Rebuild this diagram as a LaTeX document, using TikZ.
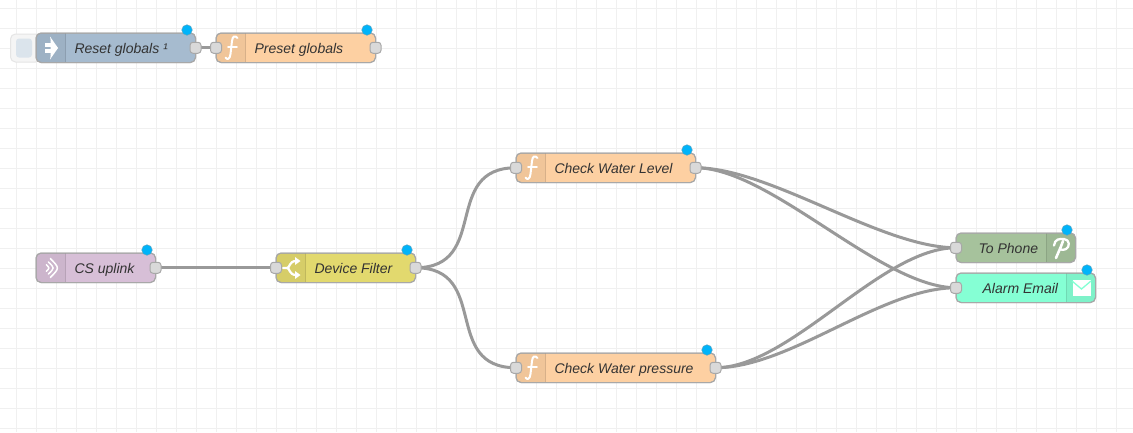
\documentclass[tikz,border=0pt]{standalone}
\usepackage{fontspec}
\setmainfont{Liberation Sans}
\pgfdeclarelayer{gridlayer}
\pgfdeclarelayer{wirelayer}
\pgfsetlayers{gridlayer,wirelayer,main}
\definecolor{wirecol}{HTML}{999999}
\definecolor{edgecol}{HTML}{A8A8A8}
\definecolor{gridcol}{HTML}{F0F0F0}
\definecolor{portcol}{HTML}{D9D9D9}
\definecolor{textcol}{HTML}{333333}
\definecolor{badgecol}{HTML}{00B4FA}
\definecolor{injectc}{HTML}{A6BBCF}
\definecolor{funcc}{HTML}{FDD0A2}
\definecolor{uplinkc}{HTML}{D7BFD7}
\definecolor{switchc}{HTML}{E2D96E}
\definecolor{phonec}{HTML}{A6C29C}
\definecolor{mailc}{HTML}{85FFD4}
\tikzset{
  nodebox/.style={draw=edgecol,line width=1pt,rounded corners=5pt,minimum height=29.5pt,inner sep=0pt,outer sep=0pt,anchor=north west},
  portbox/.style={draw=edgecol,line width=1pt,fill=portcol,rounded corners=3pt,minimum width=11pt,minimum height=11pt,inner sep=0pt,outer sep=0pt},
  badgedot/.style={circle,fill=badgecol,draw=wirecol!60!badgecol,line width=.5pt,minimum size=10.5pt,inner sep=0pt,outer sep=0pt},
  nodelabel/.style={inner sep=0pt,text=textcol,font=\fontsize{14}{16}\selectfont\itshape},
  wireline/.style={draw=wirecol,line width=3pt,out=0,in=180,distance=75pt},
  iconline/.style={draw=white,line cap=round,line join=round},
  iconshade/.style={fill=black,fill opacity=.05},
  icondiv/.style={draw=black,draw opacity=.1,line width=1pt}
}
% name, x, ytop, width, fill, label, icon
\newcommand\flowleft[7]{%
  \node[nodebox,fill=#5,minimum width=#4pt-.5pt] (#1) at (#2,#3) {};
  \begin{scope}
    \clip[rounded corners=5pt] (#1.north west) rectangle (#1.south east);
    \fill[iconshade] (#2,#3) rectangle ++(30,30);
  \end{scope}
  \draw[icondiv] (#2+29.5,#3) -- ++(0,29.5);
  \node[nodebox,minimum width=#4pt-.5pt] at (#2,#3) {};
  \begin{scope}[shift={(#2,#3)}]#7\end{scope}
  \node[nodelabel,anchor=base west] (#1label) at (#2+38.3,#3+20) {#6};
  \node[badgedot] (#1badge) at (#2+#4-9,#3-3) {};
}
\newcommand\flowright[7]{%
  \node[nodebox,fill=#5,minimum width=#4pt-.5pt] (#1) at (#2,#3) {};
  \begin{scope}
    \clip[rounded corners=5pt] (#1.north west) rectangle (#1.south east);
    \fill[iconshade] (#2+#4-30,#3) rectangle ++(30,30);
  \end{scope}
  \draw[icondiv] (#2+#4-30,#3) -- ++(0,29.5);
  \node[nodebox,minimum width=#4pt-.5pt] at (#2,#3) {};
  \begin{scope}[shift={(#2+#4-30,#3)}]#7\end{scope}
  \node[nodelabel,anchor=base east] (#1label) at (#2+#4-37.7,#3+20) {#6};
  \node[badgedot] (#1badge) at (#2+#4-9,#3-3) {};
}
\newcommand\iconfunc{%
  \draw[iconline,line width=2pt] (21.5,5) .. controls (19,2) and (16.5,3) .. (16,8)
    -- (14.5,21) .. controls (14,26.5) and (11,27) .. (9.5,24.5);
  \draw[iconline,line width=1.7pt] (12,14) -- (21,14);
}
\newcommand\iconinject{%
  \fill[white] (9,10.3) rectangle (15,14);
  \fill[white] (9,16.3) rectangle (15,20);
  \fill[white] (14,3.5) -- (22,15) -- (14,26.5) -- (16,15) -- cycle;
  \fill[white] (14.5,8) -- (22,15) -- (14.5,22) -- cycle;
}
\newcommand\iconwifi{%
  \draw[iconline,line width=1.5pt] (10.3,11.7) .. controls (13.7,15) .. (10.3,18.3);
  \draw[iconline,line width=1.5pt] (12.3,8.9) .. controls (18.7,15) .. (12.3,21.1);
  \draw[iconline,line width=1.5pt] (14.3,5.5) .. controls (23.7,15) .. (14.3,24.5);
}
\newcommand\iconswitch{%
  \draw[iconline,line width=2.2pt] (7,15) -- (11,15) .. controls (14,15) and (13,8) .. (20,8);
  \draw[iconline,line width=2.2pt] (11,15) .. controls (14,15) and (13,22) .. (20,22);
  \fill[white] (19,4) -- (24.5,8) -- (19,12) -- cycle;
  \fill[white] (19,18) -- (24.5,22) -- (19,26) -- cycle;
}
\newcommand\iconpush{%
  \draw[iconline,line width=2.3pt] (8,12.5) .. controls (8.5,6) and (14,5.5) .. (18,6)
    .. controls (24,6.5) and (24,14) .. (20,16) .. controls (18.5,17) and (16,17) .. (14.5,16.5);
  \draw[iconline,line width=2.6pt] (17,8) .. controls (15,14) and (12,20) .. (10,25);
}
\newcommand\iconmail{%
  \fill[white] (6.5,7) rectangle (24.5,23);
  \draw[draw=mailc,line width=1.3pt] (6,8) -- (15.5,16) -- (25,8);
}
\begin{document}
\begin{tikzpicture}[x=1pt,y=-1pt]
\useasboundingbox (0,0) rectangle (1133,432);
\begin{pgfonlayer}{gridlayer}
  \fill[white] (0,0) rectangle (1133,432);
  \foreach \gx in {16.5,36.5,...,1120} \draw[gridcol,line width=1pt] (\gx,0) -- (\gx,432);
  \foreach \gy in {8.5,28.5,...,430} \draw[gridcol,line width=1pt] (0,\gy) -- (1133,\gy);
\end{pgfonlayer}

% inject button
\node[nodebox,draw=black!10,fill=black!4,minimum width=30pt,minimum height=28pt] (injectbtn) at (10.5,34) {};
\node[nodebox,draw=none,fill=injectc!40!white,rounded corners=3pt,minimum width=16pt,minimum height=19pt] (injectface) at (16,38.5) {};

\flowleft{reset}{36}{33}{160}{injectc}{Reset globals ¹}{\iconinject}
\flowleft{preset}{216}{33}{160}{funcc}{Preset globals}{\iconfunc}
\flowleft{uplink}{36}{253}{120}{uplinkc}{CS uplink}{\iconwifi}
\flowleft{filter}{276}{253}{140}{switchc}{Device Filter}{\iconswitch}
\flowleft{level}{516}{153}{180}{funcc}{Check Water Level}{\iconfunc}
\flowleft{pressure}{516}{353}{200}{funcc}{Check Water pressure}{\iconfunc}
\flowright{phone}{956}{233}{120}{phonec}{To Phone}{\iconpush}
\flowright{mail}{956}{273}{140}{mailc}{Alarm Email}{\iconmail}

\node[portbox] (resetout) at (reset.east) {};
\node[portbox] (presetin) at (preset.west) {};
\node[portbox] (presetout) at (preset.east) {};
\node[portbox] (uplinkout) at (uplink.east) {};
\node[portbox] (filterin) at (filter.west) {};
\node[portbox] (filterout) at (filter.east) {};
\node[portbox] (levelin) at (level.west) {};
\node[portbox] (levelout) at (level.east) {};
\node[portbox] (pressurein) at (pressure.west) {};
\node[portbox] (pressureout) at (pressure.east) {};
\node[portbox] (phonein) at (phone.west) {};
\node[portbox] (mailin) at (mail.west) {};

\begin{pgfonlayer}{wirelayer}
  \draw[wirecol,line width=3pt] (resetout.center) -- (presetin.center);
  \draw[wirecol,line width=3pt] (uplinkout.center) -- (filterin.center);
  \draw[wireline] (filterout.center) to (levelin.center);
  \draw[wireline] (filterout.center) to (pressurein.center);
  \draw[wireline] (levelout.center) to (phonein.center);
  \draw[wireline] (levelout.center) to (mailin.center);
  \draw[wireline] (pressureout.center) to (phonein.center);
  \draw[wireline] (pressureout.center) to (mailin.center);
\end{pgfonlayer}
\end{tikzpicture}
\end{document}
